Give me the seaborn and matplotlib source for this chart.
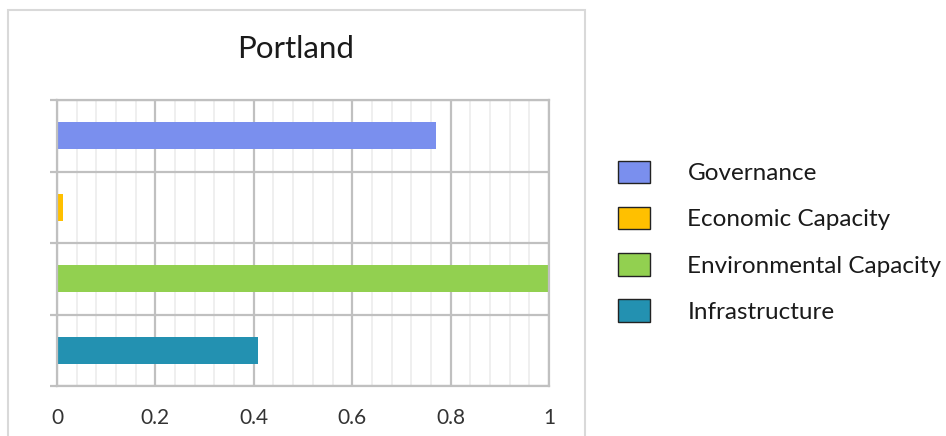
import matplotlib
matplotlib.use('Agg')
import pandas as pd
import matplotlib.pyplot as plt
import matplotlib.patches as mpatches
import seaborn as sns
from matplotlib.ticker import FixedLocator, MultipleLocator

categories = ['Governance', 'Economic Capacity', 'Environmental Capacity', 'Infrastructure']
values = [0.77, 0.012, 1.0, 0.408]
colors = ['#7A8FEE', '#FFC000', '#92D050', '#2391B1']
xticks = [0, 0.2, 0.4, 0.6, 0.8, 1.0]
xtick_labels = ['0', '0.2', '0.4', '0.6', '0.8', '1']

df = pd.DataFrame({'category': categories, 'value': values})

sns.set_style('white')
plt.rcParams['font.family'] = ['Lato', 'DejaVu Sans']

fig = plt.figure(figsize=(9.46, 4.36), dpi=100)
ax = fig.add_axes([57 / 946, 50 / 436, 492 / 946, 286 / 436])

sns.barplot(data=df, y='category', x='value', hue='category', palette=colors,
            order=categories, hue_order=categories, width=0.38, legend=False,
            saturation=1, ax=ax, linewidth=0)

ax.set_xlim(0, 1)
ax.set_ylim(3.5, -0.5)
ax.xaxis.set_major_locator(FixedLocator(xticks))
ax.xaxis.set_minor_locator(MultipleLocator(0.04))
ax.set_xticklabels(xtick_labels)
ax.yaxis.set_major_locator(FixedLocator([-0.5, 0.5, 1.5, 2.5, 3.5]))
ax.set_yticklabels([])
ax.set_xlabel('')
ax.set_ylabel('')

ax.grid(which='minor', axis='x', color='#ececec', linewidth=1.2, zorder=0)
ax.grid(which='major', axis='x', color='#c0c0c0', linewidth=1.6, zorder=0)
ax.grid(which='major', axis='y', color='#c0c0c0', linewidth=1.6, zorder=0)
ax.set_axisbelow(True)
for s in ax.spines.values():
    s.set_color('#c0c0c0')
    s.set_linewidth(1.6)
ax.tick_params(axis='y', which='major', length=5, width=1.6, color='#c0c0c0', left=True)
ax.tick_params(axis='x', which='both', length=0, labelsize=15, labelcolor='#333333', pad=16)

# outer chart frame
frame = mpatches.Rectangle((8 / 946, -0.05), 577 / 946, 1 - 10 / 436 + 0.05,
                           transform=fig.transFigure, fill=False,
                           edgecolor='#d9d9d9', linewidth=1.5, clip_on=False)
fig.add_artist(frame)

fig.text(296 / 946, 1 - 49 / 436, 'Portland', ha='center', va='center',
         fontsize=22.5, color='#1a1a1a')

handles = [mpatches.Patch(facecolor=c, edgecolor='#222222', linewidth=1.0)
           for c in colors]
fig.legend(handles, categories, loc='upper left', bbox_to_anchor=(608 / 946, 1 - 151 / 436),
           frameon=False, fontsize=17.5, handlelength=1.31, handleheight=1.05,
           handletextpad=1.56, labelspacing=0.93, borderaxespad=0,
           labelcolor='#1a1a1a')

fig.savefig('out.png', dpi=100)
